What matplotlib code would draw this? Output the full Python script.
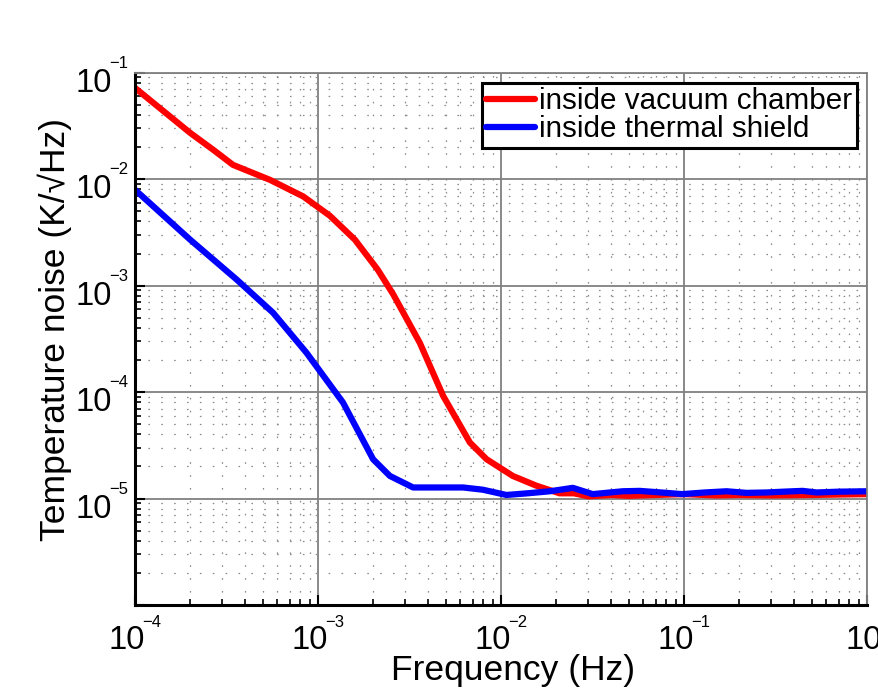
import numpy as np
import matplotlib
matplotlib.use("Agg")
import matplotlib.pyplot as plt
from matplotlib.ticker import LogLocator, FixedLocator, NullFormatter

plt.rcParams['font.family'] = ['Liberation Sans', 'DejaVu Sans']

# Data
red_f = [1e-4, 2.0e-4, 2.68e-4, 3.43e-4, 5.46e-4, 8.3e-4, 1.16e-3, 1.59e-3, 2.12e-3, 2.58e-3,
         3.6e-3, 4.83e-3, 6.76e-3, 8.34e-3, 1.16e-2, 1.56e-2, 2.09e-2, 2.5e-2, 3.0e-2,
         4.0e-2, 5.0e-2, 7.0e-2, 0.1, 0.15, 0.2, 0.3, 0.5, 0.7, 1.0]
red_T = [0.0718, 0.0272, 0.0188, 0.0136, 0.00984, 0.00687, 0.00453, 0.0027, 0.00141, 8.24e-4,
         2.9e-4, 9.2e-5, 3.36e-5, 2.34e-5, 1.63e-5, 1.32e-5, 1.12e-5, 1.12e-5, 1.05e-5,
         1.08e-5, 1.06e-5, 1.08e-5, 1.1e-5, 1.07e-5, 1.08e-5, 1.07e-5, 1.08e-5, 1.09e-5, 1.1e-5]

blue_f = [1e-4, 2e-4, 3.59e-4, 5.69e-4, 8.65e-4, 1.37e-3, 2.0e-3, 2.47e-3, 3.31e-3,
          6.21e-3, 7.96e-3, 1.07e-2, 1.4e-2, 1.85e-2, 2.47e-2, 3.17e-2, 4.62e-2, 5.72e-2,
          7.5e-2, 9.8e-2, 0.13, 0.171, 0.22, 0.283, 0.35, 0.445, 0.53, 0.7, 1.0]
blue_T = [0.00794, 0.0027, 0.00114, 5.54e-4, 2.34e-4, 7.96e-5, 2.34e-5, 1.63e-5, 1.27e-5,
          1.27e-5, 1.21e-5, 1.08e-5, 1.12e-5, 1.17e-5, 1.26e-5, 1.10e-5, 1.17e-5, 1.18e-5,
          1.14e-5, 1.10e-5, 1.14e-5, 1.17e-5, 1.13e-5, 1.14e-5, 1.16e-5, 1.18e-5, 1.14e-5,
          1.16e-5, 1.17e-5]

xticks = [1e-4, 1e-3, 1e-2, 1e-1, 1e0]
xtick_exps = ['\u22124', '\u22123', '\u22122', '\u22121', '0']
yticks = [1e-6, 1e-5, 1e-4, 1e-3, 1e-2, 1e-1]
ytick_exps = ['', '\u22125', '\u22124', '\u22123', '\u22122', '\u22121']
tick_base = '10'

fig = plt.figure(figsize=(8.79, 6.92), dpi=100)
ax = fig.add_axes([0.1536, 0.1257, 0.8327, 0.7694])

ax.plot(red_f, red_T, color='#ff0000', lw=4.5, label='inside vacuum chamber',
        solid_capstyle='round', solid_joinstyle='round')
ax.plot(blue_f, blue_T, color='#0000ff', lw=4.5, label='inside thermal shield',
        solid_capstyle='round', solid_joinstyle='round')

ax.set_xscale('log')
ax.set_yscale('log')
ax.set_xlim(1e-4, 1)
ax.set_ylim(1e-6, 1e-1)

ax.xaxis.set_major_locator(FixedLocator(xticks))
ax.yaxis.set_major_locator(FixedLocator(yticks))
ax.xaxis.set_major_formatter(NullFormatter())
ax.yaxis.set_major_formatter(NullFormatter())
ax.xaxis.set_minor_locator(LogLocator(base=10, subs=np.arange(2, 10), numticks=20))
ax.yaxis.set_minor_locator(LogLocator(base=10, subs=np.arange(2, 10), numticks=20))
ax.xaxis.set_minor_formatter(NullFormatter())
ax.yaxis.set_minor_formatter(NullFormatter())

ax.grid(True, which='major', color='#808080', lw=1.3, ls='-')
ax.grid(True, which='minor', color='#8c8c8c', lw=0.9, ls=(0, (1.3, 9)))
ax.set_axisbelow(True)

ax.tick_params(which='both', direction='in', top=False, right=False, color='black')
ax.tick_params(which='major', length=7, width=1.5)
ax.tick_params(which='minor', length=4, width=1.2)

for s in ['top', 'right']:
    ax.spines[s].set_color('#808080')
    ax.spines[s].set_linewidth(1.3)
for s in ['left', 'bottom']:
    ax.spines[s].set_color('black')
    ax.spines[s].set_linewidth(2.2)

# Tick labels "10" with small exponent (MATLAB style)
BASE_FS = 23.5
EXP_FS = 12
OV = 2.5
renderer = fig.canvas.get_renderer()

for xv, ex in zip(xticks, xtick_exps):
    t1 = ax.annotate(tick_base, xy=(xv, 0), xycoords=('data', 'axes fraction'),
                     xytext=(0, -44), textcoords='offset pixels', ha='left', va='baseline',
                     fontsize=BASE_FS, annotation_clip=False)
    t2 = ax.annotate(ex, xy=(xv, 0), xycoords=('data', 'axes fraction'),
                     xytext=(0, -21.7), textcoords='offset pixels', ha='left', va='baseline',
                     fontsize=EXP_FS, annotation_clip=False)
    w1 = t1.get_window_extent(renderer).width
    w2 = t2.get_window_extent(renderer).width
    total = w1 + w2 - OV
    t1.set_position((-total / 2, -44))
    t2.set_position((-total / 2 + w1 - OV, -21.7))

for yv, ex in zip(yticks, ytick_exps):
    if not ex:
        continue
    t2 = ax.annotate(ex, xy=(0, yv), xycoords=('axes fraction', 'data'),
                     xytext=(-7, 4.6), textcoords='offset pixels', ha='right', va='baseline',
                     fontsize=EXP_FS, annotation_clip=False)
    w2 = t2.get_window_extent(renderer).width
    ax.annotate(tick_base, xy=(0, yv), xycoords=('axes fraction', 'data'),
                xytext=(-7 - w2 + OV, -19), textcoords='offset pixels', ha='right', va='baseline',
                fontsize=BASE_FS, annotation_clip=False)

ax.set_xlabel('Frequency (Hz)', fontsize=25.5)
ax.xaxis.set_label_coords(0.517, -0.092)
ax.set_ylabel('Temperature noise (K/\u221aHz)', fontsize=25.5)
ax.yaxis.set_label_coords(-0.086, 0.518)

leg = ax.legend(loc='upper right', bbox_to_anchor=(0.9863, 0.9805), fontsize=21.3,
                frameon=True, fancybox=False, framealpha=1, edgecolor='black',
                handlelength=1.65, handletextpad=0.15, borderpad=0.15, labelspacing=0.0,
                borderaxespad=0)
leg.get_frame().set_linewidth(2.2)

fig.savefig('out.png', dpi=100)
